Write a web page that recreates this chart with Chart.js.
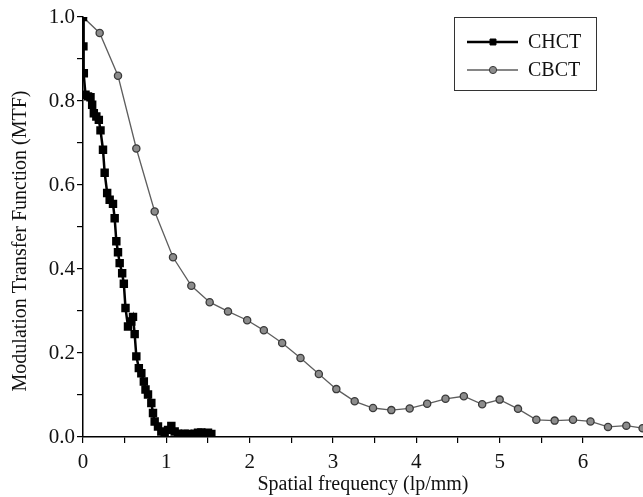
<!DOCTYPE html>
<html>
<head>
<meta charset="utf-8">
<script src="https://cdn.jsdelivr.net/npm/chart.js@4.4.1/dist/chart.umd.min.js"></script>
<style>
  html, body { margin: 0; padding: 0; background: #fff; }
  #wrap { width: 643px; height: 497px; }
</style>
</head>
<body>
<div id="wrap"><canvas id="mtfChart" width="643" height="497"></canvas></div>
<script>
// --------------- Data ---------------
const chctX = [0, 0.005, 0.01, 0.03, 0.06, 0.09, 0.11, 0.13, 0.16, 0.19, 0.21, 0.24, 0.26, 0.29, 0.32, 0.36,
  0.38, 0.40, 0.42, 0.44, 0.47, 0.49, 0.51, 0.54, 0.58, 0.60, 0.62, 0.64, 0.67, 0.70, 0.73, 0.75, 0.78,
  0.82, 0.84, 0.86, 0.90, 0.94, 0.98, 1.02, 1.06, 1.10, 1.14, 1.18, 1.22, 1.26, 1.30, 1.34, 1.38, 1.42,
  1.46, 1.50, 1.54];
const chctY = [1.0, 0.93, 0.866, 0.815, 0.811, 0.809, 0.791, 0.771, 0.763, 0.755, 0.73, 0.684, 0.629, 0.581,
  0.565, 0.555, 0.521, 0.466, 0.44, 0.414, 0.39, 0.365, 0.307, 0.263, 0.275, 0.286, 0.245, 0.192, 0.164,
  0.152, 0.132, 0.113, 0.101, 0.081, 0.057, 0.037, 0.025, 0.013, 0.005, 0.017, 0.026, 0.013, 0.008, 0.006,
  0.008, 0.007, 0.005, 0.008, 0.010, 0.011, 0.009, 0.010, 0.007];

const cbctX = [0, 0.20, 0.42, 0.64, 0.86, 1.08, 1.30, 1.52, 1.74, 1.97, 2.17, 2.39, 2.61, 2.83, 3.04, 3.26,
  3.48, 3.70, 3.92, 4.13, 4.35, 4.57, 4.79, 5.00, 5.22, 5.44, 5.66, 5.88, 6.09, 6.30, 6.52, 6.715];
const cbctY = [1.0, 0.962, 0.86, 0.687, 0.537, 0.428, 0.360, 0.321, 0.299, 0.278, 0.254, 0.224, 0.188, 0.150,
  0.114, 0.085, 0.069, 0.064, 0.068, 0.079, 0.091, 0.097, 0.078, 0.089, 0.067, 0.041, 0.039, 0.041, 0.037,
  0.024, 0.027, 0.021];

const seriesLabels = ['CHCT', 'CBCT'];
const xTitle = 'Spatial frequency (lp/mm)';
const yTitle = 'Modulation Transfer Function (MTF)';

const FONT = '"Liberation Serif", "Times New Roman", serif';

const toPoints = (xs, ys) => xs.map((x, i) => ({ x, y: ys[i] }));

// --------------- Titles + boxed legend ---------------
const decorPlugin = {
  id: 'decor',
  afterDraw(chart) {
    const ctx = chart.ctx;
    const area = chart.chartArea;
    ctx.save();
    ctx.fillStyle = '#111';
    ctx.font = '20px ' + FONT;
    ctx.textAlign = 'center';
    ctx.textBaseline = 'middle';
    ctx.fillText(xTitle, (area.left + area.right) / 2, 485);
    ctx.translate(21, 241);
    ctx.rotate(-Math.PI / 2);
    ctx.fillText(yTitle, 0, 0);
    ctx.restore();

    // legend box
    ctx.save();
    ctx.fillStyle = '#fff';
    ctx.fillRect(454, 17, 142, 73);
    ctx.strokeStyle = '#333';
    ctx.lineWidth = 1;
    ctx.strokeRect(454.5, 17.5, 142, 73);
    chart.data.datasets.forEach((ds, i) => {
      const y = 42 + i * 28;
      ctx.strokeStyle = ds.borderColor;
      ctx.lineWidth = ds.borderWidth;
      ctx.beginPath();
      ctx.moveTo(467, y);
      ctx.lineTo(518, y);
      ctx.stroke();
      ctx.fillStyle = ds.pointBackgroundColor;
      ctx.strokeStyle = ds.pointBorderColor;
      ctx.lineWidth = 1;
      Chart.helpers.drawPoint(ctx, { pointStyle: ds.pointStyle, radius: ds.pointRadius, borderWidth: 1 }, 493, y);
      ctx.fillStyle = '#111';
      ctx.font = '20px ' + FONT;
      ctx.textAlign = 'left';
      ctx.textBaseline = 'middle';
      ctx.fillText(ds.label, 528, y + 1);
    });
    ctx.restore();
  },
};

// --------------- Chart ---------------
new Chart(document.getElementById('mtfChart').getContext('2d'), {
  type: 'scatter',
  data: {
    datasets: [
      {
        label: seriesLabels[0],
        data: toPoints(chctX, chctY),
        showLine: true,
        borderColor: '#000',
        borderWidth: 2.5,
        pointStyle: 'rect',
        pointRadius: 4.2,
        pointBackgroundColor: '#000',
        pointBorderColor: '#000',
        tension: 0,
      },
      {
        label: seriesLabels[1],
        data: toPoints(cbctX, cbctY),
        showLine: true,
        borderColor: '#5e5e5e',
        borderWidth: 1.3,
        pointStyle: 'circle',
        pointRadius: 3.6,
        pointBackgroundColor: '#8c8c8c',
        pointBorderColor: '#3a3a3a',
        tension: 0,
      },
    ],
  },
  options: {
    responsive: false,
    animation: false,
    layout: { autoPadding: false, padding: { top: 17, right: 0, left: 0, bottom: 0 } },
    plugins: {
      legend: { display: false },
      tooltip: { enabled: false },
    },
    scales: {
      x: {
        type: 'linear',
        min: 0,
        max: 6.72,
        afterFit: s => { s.height = 60; s.paddingLeft = 0; s.paddingRight = 0; },
        afterBuildTicks: s => {
          s.ticks = s.ticks.filter(t => Math.abs(t.value * 2 - Math.round(t.value * 2)) < 1e-6);
        },
        border: { color: '#000', width: 1.5 },
        grid: { drawOnChartArea: false, drawTicks: true, tickLength: 6, color: '#000', lineWidth: 1.2 },
        ticks: {
          stepSize: 0.5,
          autoSkip: false,
          maxRotation: 0,
          padding: 7,
          color: '#111',
          font: { family: FONT, size: 21 },
          callback: v => (Math.abs(v - Math.round(v)) < 1e-6 ? String(Math.round(v)) : ''),
        },
      },
      y: {
        type: 'linear',
        min: 0,
        max: 1,
        afterFit: s => { s.width = 83; s.paddingTop = 0; s.paddingBottom = 0; },
        border: { color: '#000', width: 1.5 },
        grid: { drawOnChartArea: false, drawTicks: true, tickLength: 6, color: '#000', lineWidth: 1.2 },
        ticks: {
          stepSize: 0.1,
          autoSkip: false,
          padding: 2,
          color: '#111',
          font: { family: FONT, size: 21 },
          callback: v => (Math.round(v * 10) % 2 === 0 ? v.toFixed(1) : ''),
        },
      },
    },
  },
  plugins: [decorPlugin],
});
</script>
</body>
</html>
